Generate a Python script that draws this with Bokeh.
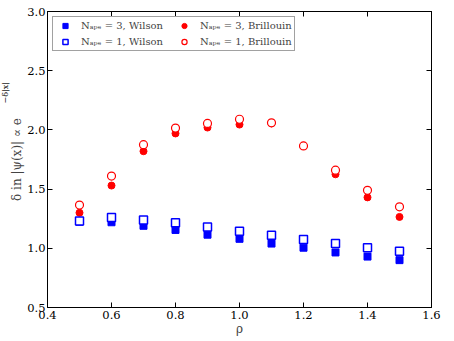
import math
from bokeh.plotting import figure
from bokeh.models import (Range1d, LinearAxis, Title, Legend, LegendItem, FixedTicker,
                          PrintfTickFormatter, CustomLabelingPolicy)
from bokeh.embed import file_html
from bokeh.resources import INLINE

rho = [0.5, 0.6, 0.7, 0.8, 0.9, 1.0, 1.1, 1.2, 1.3, 1.4, 1.5]
wilson3 = [1.225, 1.22, 1.19, 1.155, 1.115, 1.08, 1.04, 1.005, 0.965, 0.93, 0.90]
wilson1 = [1.23, 1.26, 1.24, 1.215, 1.18, 1.145, 1.11, 1.075, 1.04, 1.005, 0.975]
brill3 = [1.30, 1.53, 1.82, 1.97, 2.02, 2.045, 2.055, 1.865, 1.625, 1.43, 1.265]
brill1 = [1.365, 1.61, 1.875, 2.015, 2.055, 2.09, 2.06, 1.865, 1.66, 1.49, 1.35]
xticks = [0.4, 0.6, 0.8, 1.0, 1.2, 1.4, 1.6]
yticks = [0.5, 1.0, 1.5, 2.0, 2.5, 3.0]
labels = ["Nₐₚₑ = 3, Wilson", "Nₐₚₑ = 1, Wilson", "Nₐₚₑ = 3, Brillouin", "Nₐₚₑ = 1, Brillouin"]

FONT = "DejaVu Serif"

p = figure(width=454, height=341, output_backend="svg", toolbar_location=None,
           x_range=Range1d(0.4, 1.6), y_range=Range1d(0.5, 3.0),
           min_border_left=45, min_border_right=23, min_border_top=11, min_border_bottom=34)
p.xgrid.visible = False
p.ygrid.visible = False
p.outline_line_color = "black"
p.outline_line_width = 1
p.background_fill_color = "white"
p.border_fill_color = "white"

no_labels = CustomLabelingPolicy(code="for (const i of indices) indices.unset(i); return indices")

def style_axis(ax, ticks, show_labels=True):
    ax.ticker = FixedTicker(ticks=ticks)
    ax.major_tick_in = 5
    ax.major_tick_out = 0
    ax.minor_tick_line_color = None
    ax.axis_line_color = "black"
    ax.major_tick_line_color = "black"
    ax.major_label_text_font = FONT
    ax.major_label_text_color = "black"
    ax.major_label_text_font_size = "11.5px"
    if show_labels:
        ax.formatter = PrintfTickFormatter(format="%.1f")
        ax.major_label_standoff = 2
    else:
        ax.formatter = PrintfTickFormatter(format="")
        ax.major_label_policy = no_labels
        ax.major_label_standoff = 0

style_axis(p.xaxis[0], xticks)
style_axis(p.yaxis[0], yticks)
p.xaxis[0].major_label_standoff = 3
p.xaxis[0].axis_label = "ρ"
p.xaxis[0].axis_label_text_font = FONT
p.xaxis[0].axis_label_text_font_style = "normal"
p.xaxis[0].axis_label_text_font_size = "12px"
p.xaxis[0].axis_label_standoff = 0

# y-axis label: main part as axis label, superscript as an outer side-panel title
p.yaxis[0].axis_label = "δ in |ψ(x)| ∝ e"
p.yaxis[0].axis_label_text_font = FONT
p.yaxis[0].axis_label_text_font_style = "normal"
p.yaxis[0].axis_label_text_font_size = "12px"
p.yaxis[0].axis_label_standoff = 0

top = LinearAxis()
right = LinearAxis()
style_axis(top, xticks, False)
style_axis(right, yticks, False)
p.add_layout(top, "above")
p.add_layout(right, "right")

t_sup = Title(text="−δ|x|", align="left", offset=204, standoff=-4,
              text_font=FONT, text_font_size="8px", text_font_style="normal", text_color="black")
p.add_layout(t_sup, "left")

r_w3 = p.scatter(rho, wilson3, marker="square", size=7, fill_color="#0000ff", line_color="#0000ff")
r_b3 = p.scatter(rho, brill3, marker="circle", size=7, fill_color="#ff0000", line_color="#ff0000")
r_w1 = p.scatter(rho, wilson1, marker="square", size=8, fill_color="white", line_color="#0000ff", line_width=1.5)
r_b1 = p.scatter(rho, brill1, marker="circle", size=8, fill_color="white", line_color="#ff0000", line_width=1.2)

legend = Legend(items=[LegendItem(label=labels[0], renderers=[r_w3]),
                       LegendItem(label=labels[1], renderers=[r_w1]),
                       LegendItem(label=labels[2], renderers=[r_b3]),
                       LegendItem(label=labels[3], renderers=[r_b1])],
                ncols=2, location="top_left")
legend.label_text_font = FONT
legend.label_text_font_size = "10px"
legend.glyph_width = 20
legend.glyph_height = 13
legend.label_height = 13
legend.label_width = 90
legend.label_standoff = 6
legend.spacing = 3
legend.padding = 2
legend.margin = 5
legend.border_line_color = "#444444"
legend.border_line_width = 1.2
legend.background_fill_alpha = 1
p.add_layout(legend)

open("out.html", "w").write(file_html(p, INLINE))
